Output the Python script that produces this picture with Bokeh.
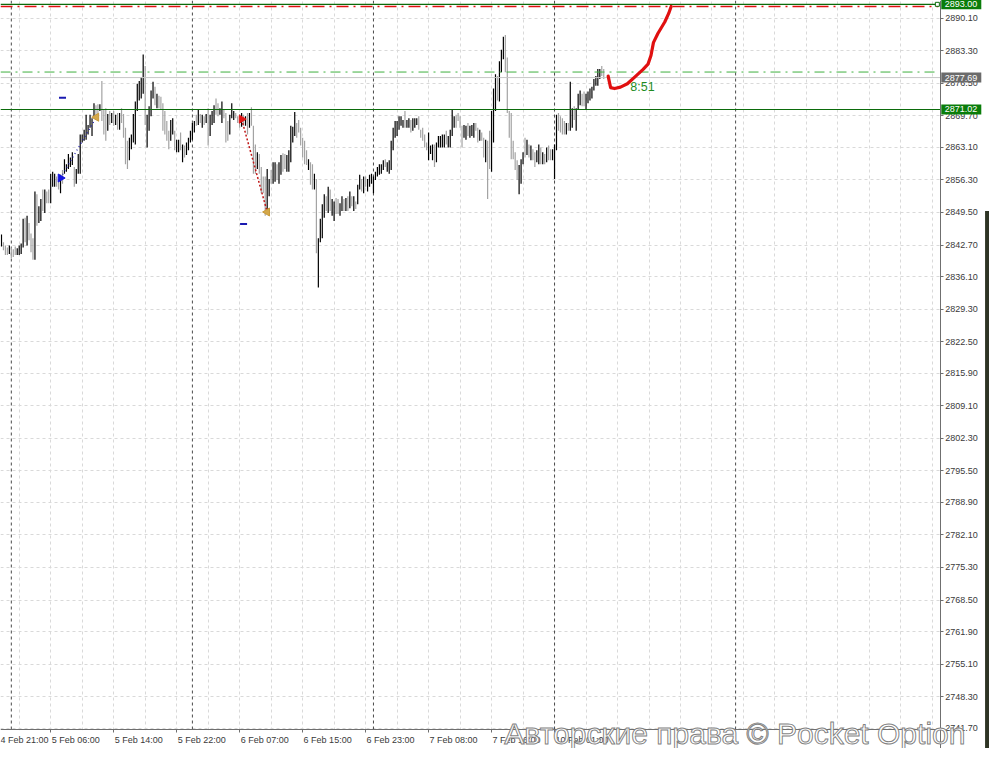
import math
from bokeh.plotting import figure
from bokeh.models import Range1d, FixedTicker, Label, Span, ColumnDataSource, NumeralTickFormatter
from bokeh.embed import file_html
from bokeh.resources import INLINE
from bokeh.core.properties import value

# ---------------- data (M15 bars) ----------------
highs = [
    2844.9, 2843.3, 2842.6, 2842.2, 2842.6, 2842.2, 2841.8, 2842.4, 2842.0, 2842.6,
    2843.0, 2848.2, 2848.4, 2848.8, 2847.3, 2845.1, 2844.1, 2853.9, 2853.3, 2850.8,
    2852.3, 2854.3, 2854.3, 2853.9, 2854.3, 2857.6, 2858.0, 2857.6, 2857.0, 2856.5,
    2857.4, 2858.4, 2860.6, 2859.6, 2861.7, 2861.0, 2862.1, 2859.0, 2858.6, 2861.7,
    2865.8, 2865.8, 2866.8, 2869.9, 2867.8, 2869.9, 2869.2, 2872.3, 2871.9, 2872.1,
    2872.1, 2877.0, 2870.9, 2871.3, 2870.1, 2870.7, 2870.3, 2870.7, 2869.9, 2870.3,
    2870.3, 2871.3, 2870.1, 2867.2, 2864.5, 2865.1, 2865.8, 2870.1, 2872.7, 2876.4,
    2877.0, 2877.8, 2882.5, 2880.1, 2869.9, 2871.7, 2875.0, 2876.8, 2875.8, 2874.3,
    2873.9, 2873.7, 2872.3, 2870.7, 2868.6, 2866.6, 2868.8, 2869.2, 2866.6, 2864.7,
    2864.7, 2866.2, 2863.7, 2863.5, 2864.1, 2865.1, 2866.6, 2868.2, 2868.6, 2869.9,
    2870.9, 2870.1, 2869.9, 2869.6, 2870.1, 2871.3, 2869.9, 2870.7, 2871.9, 2873.3,
    2872.3, 2871.3, 2872.7, 2870.9, 2870.3, 2868.6, 2869.9, 2872.3, 2870.7, 2870.3,
    2869.6, 2870.1, 2870.3, 2869.9, 2869.6, 2870.3, 2870.3, 2871.5, 2867.6, 2863.7,
    2862.1, 2861.7, 2859.0, 2857.0, 2857.0, 2858.6, 2856.5, 2858.4, 2860.0, 2860.0,
    2859.6, 2860.0, 2861.5, 2861.9, 2861.7, 2861.5, 2862.5, 2867.6, 2867.4, 2870.5,
    2868.2, 2868.8, 2867.2, 2865.1, 2864.5, 2862.5, 2860.6, 2860.0, 2859.6, 2857.6,
    2856.5, 2844.1, 2848.2, 2851.2, 2853.3, 2852.9, 2854.9, 2854.3, 2852.3, 2851.8,
    2852.5, 2852.3, 2851.4, 2852.9, 2852.3, 2852.5, 2852.9, 2853.9, 2852.9, 2852.9,
    2851.8, 2855.3, 2857.4, 2856.5, 2857.0, 2857.0, 2856.5, 2857.4, 2857.6, 2857.0,
    2858.0, 2859.0, 2859.6, 2859.6, 2860.4, 2860.6, 2860.0, 2860.4, 2864.5, 2867.2,
    2868.6, 2868.6, 2869.6, 2869.6, 2868.8, 2870.7, 2868.8, 2869.2, 2868.8, 2869.2,
    2869.2, 2869.2, 2869.6, 2866.8, 2867.2, 2865.8, 2864.1, 2866.2, 2863.5, 2863.7,
    2863.7, 2864.1, 2865.5, 2865.5, 2865.8, 2865.8, 2866.6, 2865.5, 2866.8, 2870.9,
    2869.6, 2869.9, 2870.3, 2869.6, 2867.6, 2867.8, 2867.6, 2868.2, 2867.6, 2867.8,
    2868.2, 2868.2, 2867.2, 2866.8, 2866.2, 2865.1, 2864.7, 2864.5, 2866.6, 2870.7,
    2875.4, 2878.4, 2878.0, 2881.1, 2883.5, 2886.2, 2886.6, 2881.9, 2870.7, 2870.3,
    2864.5, 2862.1, 2860.4, 2859.4, 2860.6, 2862.1, 2865.1, 2864.7, 2863.7, 2863.5,
    2862.7, 2862.1, 2862.5, 2863.7, 2863.1, 2862.1, 2861.7, 2863.1, 2863.5, 2862.7,
    2862.7, 2863.7, 2869.9, 2870.3, 2869.6, 2869.2, 2868.6, 2868.2, 2868.2, 2876.8,
    2871.3, 2871.7, 2871.3, 2874.3, 2875.0, 2874.3, 2874.8, 2874.3, 2874.8, 2875.4,
    2875.8, 2877.4, 2878.0, 2879.5, 2879.5, 2880.1, 2879.5,
]
lows = [
    2842.4, 2841.6, 2840.6, 2840.6, 2840.8, 2840.0, 2840.2, 2840.6, 2840.6, 2840.6,
    2840.8, 2842.2, 2843.3, 2842.6, 2843.7, 2841.2, 2839.6, 2839.6, 2846.7, 2847.3,
    2847.7, 2849.8, 2849.4, 2851.4, 2851.4, 2851.4, 2854.9, 2854.9, 2854.9, 2854.3,
    2853.5, 2855.5, 2857.6, 2858.0, 2858.6, 2859.0, 2859.4, 2854.9, 2855.5, 2857.6,
    2857.6, 2864.1, 2864.5, 2864.7, 2865.8, 2867.2, 2865.5, 2869.6, 2869.2, 2869.9,
    2870.7, 2868.6, 2865.8, 2864.5, 2866.6, 2867.8, 2868.2, 2867.6, 2867.8, 2866.8,
    2866.8, 2868.2, 2865.1, 2859.6, 2858.6, 2860.4, 2862.7, 2864.1, 2863.7, 2870.7,
    2872.9, 2873.3, 2874.3, 2867.8, 2863.1, 2866.6, 2869.6, 2873.3, 2871.9, 2871.3,
    2871.3, 2870.9, 2866.6, 2865.8, 2864.5, 2862.7, 2864.5, 2865.8, 2862.5, 2862.1,
    2862.1, 2862.5, 2860.0, 2861.0, 2861.5, 2862.5, 2864.1, 2864.7, 2866.2, 2867.6,
    2867.8, 2868.2, 2867.2, 2867.8, 2868.2, 2863.5, 2865.5, 2867.8, 2868.2, 2869.9,
    2869.6, 2869.9, 2868.2, 2869.2, 2864.1, 2864.5, 2865.8, 2869.2, 2868.8, 2869.2,
    2868.2, 2867.2, 2867.4, 2867.6, 2867.6, 2865.8, 2867.2, 2867.6, 2857.6, 2857.6,
    2858.6, 2857.6, 2853.5, 2853.5, 2848.8, 2849.8, 2852.9, 2855.5, 2855.5, 2855.9,
    2856.3, 2855.5, 2857.4, 2858.0, 2858.6, 2858.0, 2858.0, 2860.0, 2864.1, 2865.5,
    2865.1, 2866.2, 2863.5, 2861.0, 2859.6, 2859.4, 2858.4, 2855.3, 2854.3, 2854.3,
    2841.0, 2833.8, 2843.3, 2844.1, 2848.4, 2849.8, 2849.4, 2849.8, 2848.8, 2847.7,
    2849.2, 2849.2, 2848.8, 2849.8, 2849.8, 2849.8, 2849.8, 2850.4, 2850.8, 2849.8,
    2850.2, 2851.2, 2854.3, 2853.9, 2853.5, 2854.9, 2853.9, 2854.9, 2855.5, 2853.5,
    2856.3, 2857.0, 2857.4, 2857.6, 2858.4, 2859.0, 2858.0, 2857.6, 2858.4, 2862.5,
    2865.1, 2865.5, 2866.8, 2867.6, 2867.2, 2867.2, 2867.2, 2867.2, 2866.2, 2866.6,
    2867.2, 2867.8, 2866.8, 2865.1, 2864.5, 2863.1, 2862.5, 2860.4, 2861.7, 2860.4,
    2859.0, 2860.0, 2863.1, 2863.1, 2863.1, 2863.1, 2863.7, 2863.1, 2863.1, 2865.5,
    2867.2, 2867.2, 2868.6, 2867.2, 2863.1, 2865.1, 2864.7, 2865.5, 2865.1, 2865.5,
    2865.1, 2866.6, 2864.1, 2864.5, 2864.5, 2861.0, 2860.0, 2852.3, 2858.6, 2858.0,
    2864.1, 2870.7, 2872.9, 2872.7, 2878.8, 2881.5, 2878.8, 2870.3, 2865.1, 2860.6,
    2860.6, 2858.4, 2856.3, 2853.3, 2855.5, 2859.6, 2861.0, 2861.5, 2861.0, 2860.4,
    2860.4, 2859.0, 2860.0, 2859.6, 2859.6, 2859.6, 2859.6, 2860.0, 2860.4, 2860.4,
    2860.4, 2856.5, 2862.5, 2866.6, 2866.2, 2865.8, 2865.8, 2865.8, 2866.6, 2866.6,
    2867.2, 2868.8, 2866.6, 2870.9, 2871.9, 2871.7, 2871.7, 2870.9, 2872.3, 2872.9,
    2873.3, 2875.0, 2876.0, 2876.0, 2877.4, 2878.0, 2877.4,
]
bar_up = [
    1, 0, 0, 0, 1, 0, 0, 0, 1, 1,  1, 1, 0, 1, 0, 0, 0, 1, 0, 1,
    1, 0, 1, 0, 0, 1, 1, 1, 0, 0,  1, 0, 1, 1, 1, 1, 1, 0, 1, 1,
    1, 1, 1, 1, 1, 1, 1, 1, 0, 0,  1, 0, 0, 0, 1, 0, 1, 0, 1, 0,
    1, 0, 0, 0, 0, 1, 1, 1, 1, 1,  1, 1, 1, 0, 1, 1, 1, 1, 0, 1,
    0, 0, 0, 0, 0, 0, 1, 1, 0, 1,  1, 0, 1, 0, 1, 1, 1, 1, 1, 0,
    1, 0, 1, 0, 1, 0, 1, 1, 1, 0,  0, 1, 1, 0, 0, 0, 1, 1, 1, 0,
    0, 0, 1, 0, 1, 0, 1, 0, 0, 0,  1, 0, 0, 0, 0, 1, 1, 0, 1, 1,
    0, 1, 1, 0, 0, 1, 1, 1, 1, 1,  0, 0, 0, 0, 0, 0, 1, 0, 0, 1,
    0, 1, 1, 1, 1, 0, 1, 0, 1, 1,  0, 0, 1, 1, 0, 1, 0, 1, 0, 1,
    0, 1, 1, 0, 1, 0, 1, 1, 1, 1,  1, 1, 1, 1, 1, 0, 1, 1, 1, 1,
    1, 1, 1, 1, 1, 0, 1, 1, 0, 1,  1, 1, 0, 0, 0, 0, 0, 1, 1, 1,
    0, 1, 1, 1, 1, 1, 0, 1, 1, 1,  1, 0, 0, 0, 0, 1, 1, 0, 1, 1,
    1, 0, 0, 1, 0, 0, 1, 0, 0, 1,  1, 1, 0, 1, 1, 1, 0, 0, 0, 0,
    0, 0, 0, 1, 1, 1, 0, 1, 0, 1,  0, 0, 1, 1, 0, 1, 0, 1, 0, 0,
    1, 1, 1, 0, 0, 0, 0, 1, 0, 1,  1, 0, 1, 1, 1, 0, 0, 1, 1, 1,
    1, 1, 1, 1, 1, 0, 0,
]

price_ticks = [2890.10, 2883.30, 2876.50, 2869.70, 2863.10, 2856.30, 2849.50, 2842.70,
               2836.10, 2829.30, 2822.50, 2815.90, 2809.10, 2802.30, 2795.50, 2788.90,
               2782.10, 2775.30, 2768.50, 2761.90, 2755.10, 2748.30, 2741.70]
date_ticks = [-7, 25, 57, 89, 121, 153, 185, 217, 249, 281]
date_labels = ["4 Feb 21:00", "5 Feb 06:00", "5 Feb 14:00", "5 Feb 22:00", "6 Feb 07:00",
               "6 Feb 15:00", "6 Feb 23:00", "7 Feb 08:00", "7 Feb 16:00", "10 Feb 01:00"]
day_separators = [5, 97, 189, 281, 373]

level_green = [2893.00, 2871.02]
level_red = 2892.55
level_green_dash = 2878.85
bid_price = 2877.69

buy_open = (30, 2856.7)
buy_close = (48.2, 2869.4)
sell_open = (122, 2869.0)
sell_close = (135, 2849.6)
pending_x = [31, 123]
pending_y = [2873.5, 2847.1]

forecast_x = [308.25, 308.75, 309.5, 311.5, 314.5, 318.0, 322.0, 326.0, 328.5, 330.0,
              331.25, 333.5, 337.0, 339.0, 340.25]
forecast_y = [2878.0, 2877.0, 2875.6, 2875.4, 2875.7, 2876.4, 2877.9, 2879.4, 2880.5, 2882.3,
              2885.0, 2886.9, 2889.3, 2891.1, 2892.55]
timer_text = "8:51"
timer_pos = (319.5, 2875.8)
watermark = "Авторские права © Pocket Option"

# ---------------- layout constants ----------------
W, H = 989, 748
X0, X1 = -0.5, 502.0          # bar-index range of the whole canvas
Y0, Y1 = 2737.47, 2893.80     # price range of the whole canvas
AXIS_X = 477.0                # bar index where the price scale sits
AXIS_Y = 2741.36              # price where the time scale sits
CHART_END = 476.0             # where horizontal levels stop
bpx = (X1 - X0) / W           # bars per pixel
ppx = (Y1 - Y0) / H           # price per pixel
FONT = "Liberation Sans"

p = figure(width=W, height=H, x_range=Range1d(X0, X1), y_range=Range1d(Y0, Y1),
           output_backend="svg", toolbar_location=None, y_axis_location="right",
           min_border=0, background_fill_color="white", border_fill_color="white")
p.outline_line_color = None

# ---- price scale (right) ----
ya = p.yaxis[0]
ya.fixed_location = AXIS_X
ya.bounds = (Y0, Y1)
ya.ticker = FixedTicker(ticks=price_ticks)
ya.formatter = NumeralTickFormatter(format="0.00")
ya.major_label_text_font = FONT
ya.major_label_text_font_size = "9px"
ya.major_label_text_color = "#3a3a3a"
ya.major_label_standoff = 2
ya.major_tick_out = 3
ya.major_tick_in = 0
ya.minor_tick_line_color = None
ya.axis_line_color = "#6f6f6f"
ya.major_tick_line_color = "#6f6f6f"

# ---- time scale (bottom): labels start at their tick ----
CW = {" ": 0.278, ":": 0.278, "F": 0.611, "e": 0.556, "b": 0.556}
def text_px(s, size=9):
    return sum(CW.get(c, 0.556) for c in s) * size

label_centers = [round(t + (text_px(s) / 2 + 1) * bpx, 2) for t, s in zip(date_ticks, date_labels)]
xa = p.xaxis[0]
xa.fixed_location = AXIS_Y
xa.bounds = (X0, AXIS_X)
xa.ticker = FixedTicker(ticks=label_centers, minor_ticks=date_ticks)
xa.major_label_overrides = {c: s for c, s in zip(label_centers, date_labels)}
xa.major_label_text_font = FONT
xa.major_label_text_font_size = "9px"
xa.major_label_text_color = "#3a3a3a"
xa.major_label_standoff = 2
xa.major_tick_out = 3
xa.major_tick_in = 0
xa.major_tick_line_color = None
xa.minor_tick_out = 3
xa.minor_tick_in = 0
xa.minor_tick_line_color = "#6f6f6f"
xa.axis_line_color = "#6f6f6f"

# ---- grid ----
p.xgrid.ticker = FixedTicker(ticks=list(range(9, 474, 16)))
for g in (p.xgrid, p.ygrid):
    g.grid_line_color = "#d9d9d9"
    g.grid_line_dash = "3 3"
    g.grid_line_width = 1

for d in day_separators:
    p.add_layout(Span(location=d, dimension="height", line_color="#4a4a4a",
                      line_dash="3 3", line_width=1, level="underlay"))

# white margins for the scales (hide grid there)
p.quad(left=AXIS_X + 0.3, right=X1, top=Y1, bottom=Y0, fill_color="white", line_color=None)
p.quad(left=X0, right=X1, top=AXIS_Y - 0.05, bottom=Y0, fill_color="white", line_color=None)
# dark photo edge at the far right
p.quad(left=499.75, right=X1, top=2849.8, bottom=Y0, fill_color="#2e3424", line_color=None)

# ---- bars ----
src = ColumnDataSource(dict(
    x=list(range(len(highs))), high=highs, low=lows,
    color=["#000000" if u else "#a3a3a3" for u in bar_up]))
p.segment(x0="x", y0="low", x1="x", y1="high", source=src, line_color="color", line_width=1.2)

# ---- horizontal levels ----
p.segment(x0=[X0], y0=[bid_price], x1=[AXIS_X], y1=[bid_price], line_color="#c6c6c6", line_width=1)
p.segment(x0=[X0], y0=[level_green_dash], x1=[CHART_END], y1=[level_green_dash],
          line_color="#3faf3f", line_dash="10 5 2 5", line_width=1)
p.segment(x0=[X0], y0=[level_red], x1=[CHART_END], y1=[level_red],
          line_color="#e01010", line_dash="12 5 2 5", line_width=1.3)
p.segment(x0=[X0, X0], y0=level_green, x1=[CHART_END, AXIS_X], y1=level_green,
          line_color="#0b6b0b", line_width=1.2)
p.scatter([CHART_END - 0.5], [level_green[0]], marker="square", size=4,
          fill_color="white", line_color="#0b6b0b")

# ---- trades ----
p.line([buy_open[0], buy_close[0]], [buy_open[1], buy_close[1]], line_color="#1a1aa8",
       line_dash="1 3", line_width=1.3)
p.line([sell_open[0], sell_close[0]], [sell_open[1], sell_close[1]], line_color="#c01818",
       line_dash="2 2", line_width=1.5)
p.scatter([buy_open[0]], [buy_open[1]], marker="triangle", angle=-math.pi / 2, size=8,
          fill_color="#1414e0", line_color="#1414e0")
p.scatter([sell_open[0]], [sell_open[1]], marker="triangle", angle=-math.pi / 2, size=8,
          fill_color="#e01414", line_color="#e01414")
p.scatter([buy_close[0], sell_close[0]], [buy_close[1], sell_close[1]], marker="triangle",
          angle=math.pi / 2, size=8, fill_color="#d4a84a", line_color="#c89a3a")
p.scatter(pending_x, pending_y, marker="dash", size=7, line_color="#1a1ab0", line_width=2)

# ---- hand-drawn forecast ----
p.line(forecast_x, forecast_y, line_color="#e01010", line_width=3.2,
       line_join="round", line_cap="round")
p.add_layout(Label(x=timer_pos[0], y=timer_pos[1], text=timer_text, text_color="#1f8c1f",
                   text_font=FONT, text_font_size="12.5px", text_baseline="middle",
                   text_align="left"))

# ---- price boxes on the scale ----
box_prices = [level_green[0], bid_price, level_green[1]]
box_colors = ["#0a7d0a", "#6b6b6b", "#0a7d0a"]
half_h = 5 * ppx
p.quad(left=[AXIS_X + 0.5] * 3, right=[AXIS_X + 41 * bpx] * 3,
       top=[b + half_h for b in box_prices], bottom=[b - half_h for b in box_prices],
       fill_color=box_colors, line_color=None, level="annotation")
p.text(x=[AXIS_X + 4.5 * bpx] * 3, y=box_prices, text=[f"{b:.2f}" for b in box_prices],
       text_font=value(FONT), text_font_size="9px", text_color="white",
       text_baseline="middle", text_align="left", level="annotation")

# ---- watermark (white letters with a grey outline) ----
p.add_layout(Label(x=255.5, y=2740.6, text=watermark, text_font=FONT,
                   text_font_size="30px", text_color="white", text_alpha=0.95,
                   text_outline_color="#7a7a7a", text_align="left",
                   text_baseline="alphabetic"))

open("out.html", "w").write(file_html(p, INLINE))
